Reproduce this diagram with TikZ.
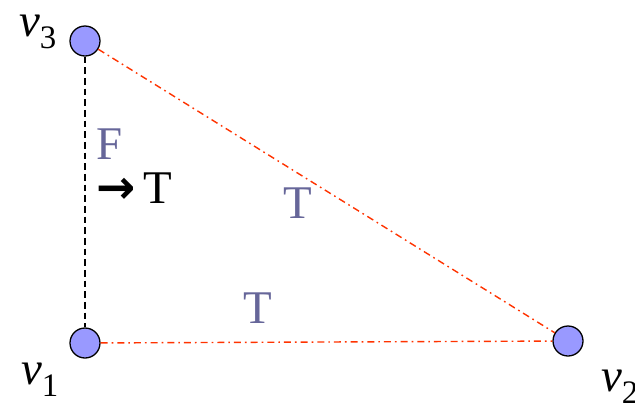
\documentclass[tikz,border=0pt]{standalone}
\usepackage{fontspec}
\setmainfont{Liberation Serif}
\newfontfamily\arrowfont{DejaVu Sans}
\usepackage{xcolor}
\usepackage{tikz}

\definecolor{vfill}{HTML}{9999FF}
\definecolor{slate}{HTML}{666699}
\definecolor{edgered}{HTML}{FF3300}

\tikzset{
  vertex/.style={circle, draw=black, line width=1.1pt, fill=vfill, minimum size=0.9cm, inner sep=0pt},
  vlabel/.style={font=\fontsize{40}{48}\selectfont},
  truth/.style={font=\fontsize{40}{48}\selectfont, text=slate},
  redge/.style={edgered, line width=1.2pt, dash pattern=on 0.21cm off 0.12cm on 0.05cm off 0.12cm},
  fedge/.style={black, line width=1pt, dash pattern=on 0.2cm off 0.12cm}
}

\begin{document}
\begin{tikzpicture}[x=0.03cm, y=-0.03cm]
\useasboundingbox (0,0) rectangle (635,411);

% Vertices
\node[vertex] (v3) at (85, 41) {};
\node[vertex] (v1) at (85, 343) {};
\node[vertex] (v2) at (568, 341) {};

% Vertex names
\node[vlabel] (l3) at (38, 32) {\textit{v}\textsubscript{3}};
\node[vlabel] (l1) at (40, 380) {\textit{v}\textsubscript{1}};
\node[vlabel] (l2) at (620, 387) {\textit{v}\textsubscript{2}};

% Edges
\draw[fedge] (v3) -- (v1);
\draw[redge] (v3) -- (v2);
\draw[redge] (v1) -- (v2);

% Truth values
\node[truth] (f31) at (110, 144) {F};
\node[vlabel] (t31) at (134, 188) {{\arrowfont\bfseries →}\,T};
\node[truth] (t32) at (298, 203) {T};
\node[truth] (t12) at (258, 308) {T};

\end{tikzpicture}
\end{document}
